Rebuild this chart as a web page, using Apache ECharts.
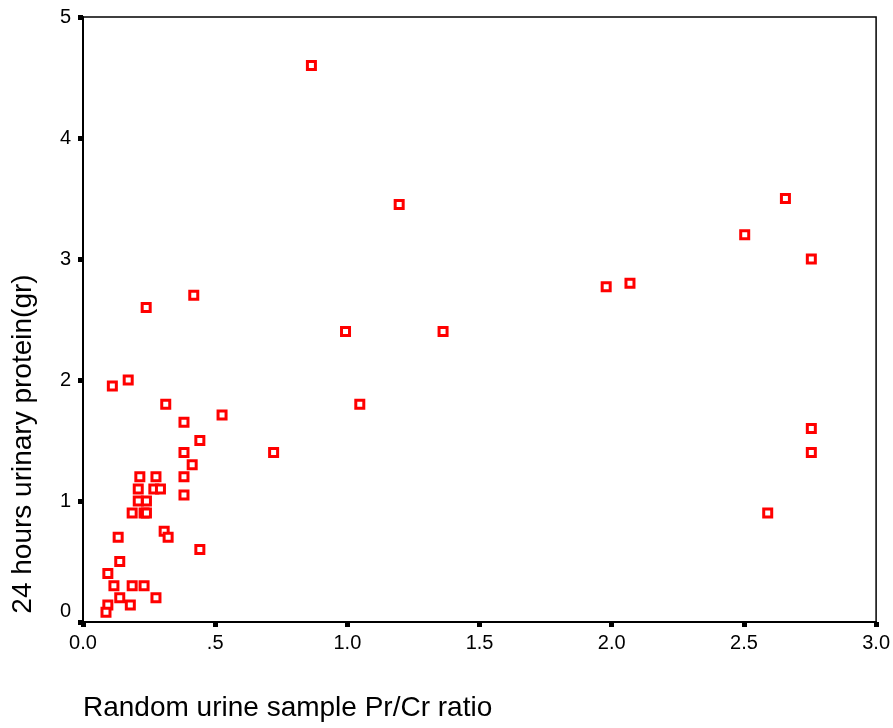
<!DOCTYPE html>
<html>
<head>
<meta charset="utf-8">
<script src="https://cdn.jsdelivr.net/npm/echarts@6/dist/echarts.min.js"></script>
<style>
html,body{margin:0;padding:0;background:#fff;}
#chart{width:893px;height:728px;}
</style>
</head>
<body>
<div id="chart"></div>
<script>
// Random urine sample Pr/Cr ratio (x) vs 24 hours urinary protein in gr (y)
var prCrRatio = [
  0.864, 1.196, 2.657, 2.503, 2.755, 1.979, 2.069, 0.993, 1.362, 1.047,
  2.755, 2.755, 2.590, 0.526, 0.721, 0.419, 0.239, 0.111, 0.171, 0.313,
  0.382, 0.442, 0.382, 0.413, 0.215, 0.276, 0.382, 0.209, 0.268, 0.293,
  0.209, 0.240, 0.382, 0.186, 0.231, 0.240, 0.307, 0.322, 0.133, 0.442,
  0.139, 0.094, 0.117, 0.186, 0.231, 0.139, 0.276, 0.094, 0.179, 0.087
];
var urinaryProtein = [
  4.60, 3.45, 3.50, 3.20, 3.00, 2.77, 2.80, 2.40, 2.40, 1.80,
  1.60, 1.40, 0.90, 1.71, 1.40, 2.70, 2.60, 1.95, 2.00, 1.80,
  1.65, 1.50, 1.40, 1.30, 1.20, 1.20, 1.20, 1.10, 1.10, 1.10,
  1.00, 1.00, 1.05, 0.90, 0.90, 0.90, 0.75, 0.70, 0.70, 0.60,
  0.50, 0.40, 0.30, 0.30, 0.30, 0.20, 0.20, 0.14, 0.14, 0.08
];
var xTickLabels = ['0.0', '.5', '1.0', '1.5', '2.0', '2.5', '3.0'];
var yTickLabels = ['0', '1', '2', '3', '4', '5'];
var xTitle = 'Random urine sample Pr/Cr ratio';
var yTitle = '24 hours urinary protein(gr)';

var points = prCrRatio.map(function (x, i) { return [x, urinaryProtein[i]]; });
var FONT = "'Liberation Sans', Arial, sans-serif";

var chart = echarts.init(document.getElementById('chart'), null, {renderer: 'canvas'});
chart.setOption({
  animation: false,
  backgroundColor: '#ffffff',
  grid: {
    left: 83, right: 16, top: 17, bottom: 106,
    show: true, borderColor: '#000', borderWidth: 1.5, backgroundColor: 'transparent'
  },
  xAxis: {
    type: 'value', min: 0, max: 3, interval: 0.5,
    axisLine: {show: true, onZero: false, lineStyle: {color: '#000', width: 2}},
    axisTick: {show: true, length: 5, lineStyle: {color: '#000', width: 5}},
    splitLine: {show: false},
    axisLabel: {
      margin: 11, color: '#000', fontSize: 20, fontFamily: FONT,
      formatter: function (v) { return xTickLabels[Math.round(v / 0.5)]; }
    }
  },
  yAxis: {
    type: 'value', min: 0, max: 5, interval: 1,
    axisLine: {show: true, onZero: false, lineStyle: {color: '#000', width: 2}},
    axisTick: {show: true, length: 5, lineStyle: {color: '#000', width: 5}},
    splitLine: {show: false},
    axisLabel: {
      margin: 12, color: '#000', fontSize: 20, fontFamily: FONT,
      formatter: function (v) {
        var s = yTickLabels[Math.round(v)];
        return v === 0 ? '{lift|' + s + '}' : s;
      },
      rich: {
        lift: {fontSize: 20, fontFamily: FONT, color: '#000', padding: [0, 0, 22, 0]}
      }
    }
  },
  graphic: [
    {
      type: 'text', left: 83, top: 694, silent: true,
      style: {text: xTitle, fill: '#000', font: '28px ' + FONT}
    },
    {
      type: 'text', x: 23, y: 444, rotation: Math.PI / 2, silent: true,
      style: {text: yTitle, fill: '#000', font: '28px ' + FONT, align: 'center', verticalAlign: 'middle'}
    }
  ],
  series: [{
    type: 'scatter',
    data: points,
    symbol: 'rect',
    symbolSize: 8,
    itemStyle: {color: '#ffffff', borderColor: '#ff0000', borderWidth: 3, opacity: 1}
  }]
});
</script>
</body>
</html>
